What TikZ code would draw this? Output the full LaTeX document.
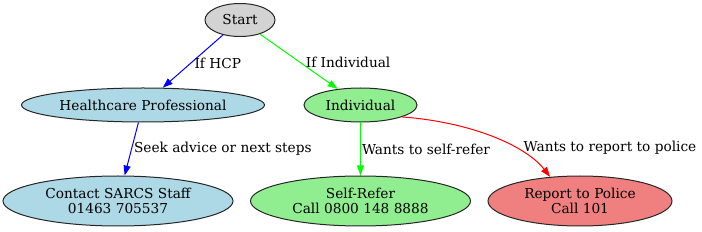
\documentclass[tikz,border=0pt]{standalone}
\usepackage{fontspec}
\setmainfont{DejaVu Serif}
\usepackage{tikz}
\usetikzlibrary{arrows.meta,shapes.geometric}
\definecolor{LightBlue}{RGB}{173,216,230}
\definecolor{LightGreen}{RGB}{144,238,144}
\definecolor{LightCoral}{RGB}{240,128,128}
\definecolor{LightGray}{RGB}{211,211,211}
\definecolor{Lime}{RGB}{0,255,0}

\begin{document}
\begin{tikzpicture}[x=1pt,y=-1pt,
    blob/.style={ellipse,draw=black!85,line width=1pt,inner sep=0pt,
      align=center,font=\fontsize{13.7}{15}\selectfont},
    flow/.style={line width=1pt,-{Triangle[length=10pt,width=7pt]}},
    lab/.style={font=\fontsize{13.7}{15}\selectfont,text=black,inner sep=0pt}]
      \useasboundingbox (0,0) rectangle (702,232);
      % nodes
      \node[blob,fill=LightGray,minimum width=70,minimum height=33] (start) at (240,20) {Start};
      \node[blob,fill=LightBlue,minimum width=243,minimum height=34] (hcp) at (143,105) {Healthcare Professional};
      \node[blob,fill=LightGreen,minimum width=113,minimum height=34] (indiv) at (360.5,105) {Individual};
      \node[blob,fill=LightBlue,minimum width=230,minimum height=50] (sarcs) at (118,201) {Contact SARCS Staff\\01463 705537};
      \node[blob,fill=LightGreen,minimum width=220,minimum height=50] (selfref) at (360.5,201) {Self-Refer\\Call 0800 148 8888};
      \node[blob,fill=LightCoral,minimum width=184,minimum height=50] (police) at (580,201) {Report to Police\\Call 101};
      % edges
      \draw[flow,blue] (start) -- (hcp) node[lab,pos=0.53,right=3pt] (lhcp) {If HCP};
      \draw[flow,Lime] (start) -- (indiv) node[lab,pos=0.52,right=5pt] (lind) {If Individual};
      \draw[flow,blue] (hcp) -- (sarcs) node[lab,midway,right=2pt] (lseek) {Seek advice or next steps};
      \draw[flow,Lime] (indiv) -- (selfref) node[lab,midway,right=1pt] (lself) {Wants to self-refer};
      \draw[flow,red] (indiv.-16) .. controls (470,122) and (525,145) .. (police.141);
      \node[lab] (lpol) at (610,148) {Wants to report to police};
\end{tikzpicture}
\end{document}
